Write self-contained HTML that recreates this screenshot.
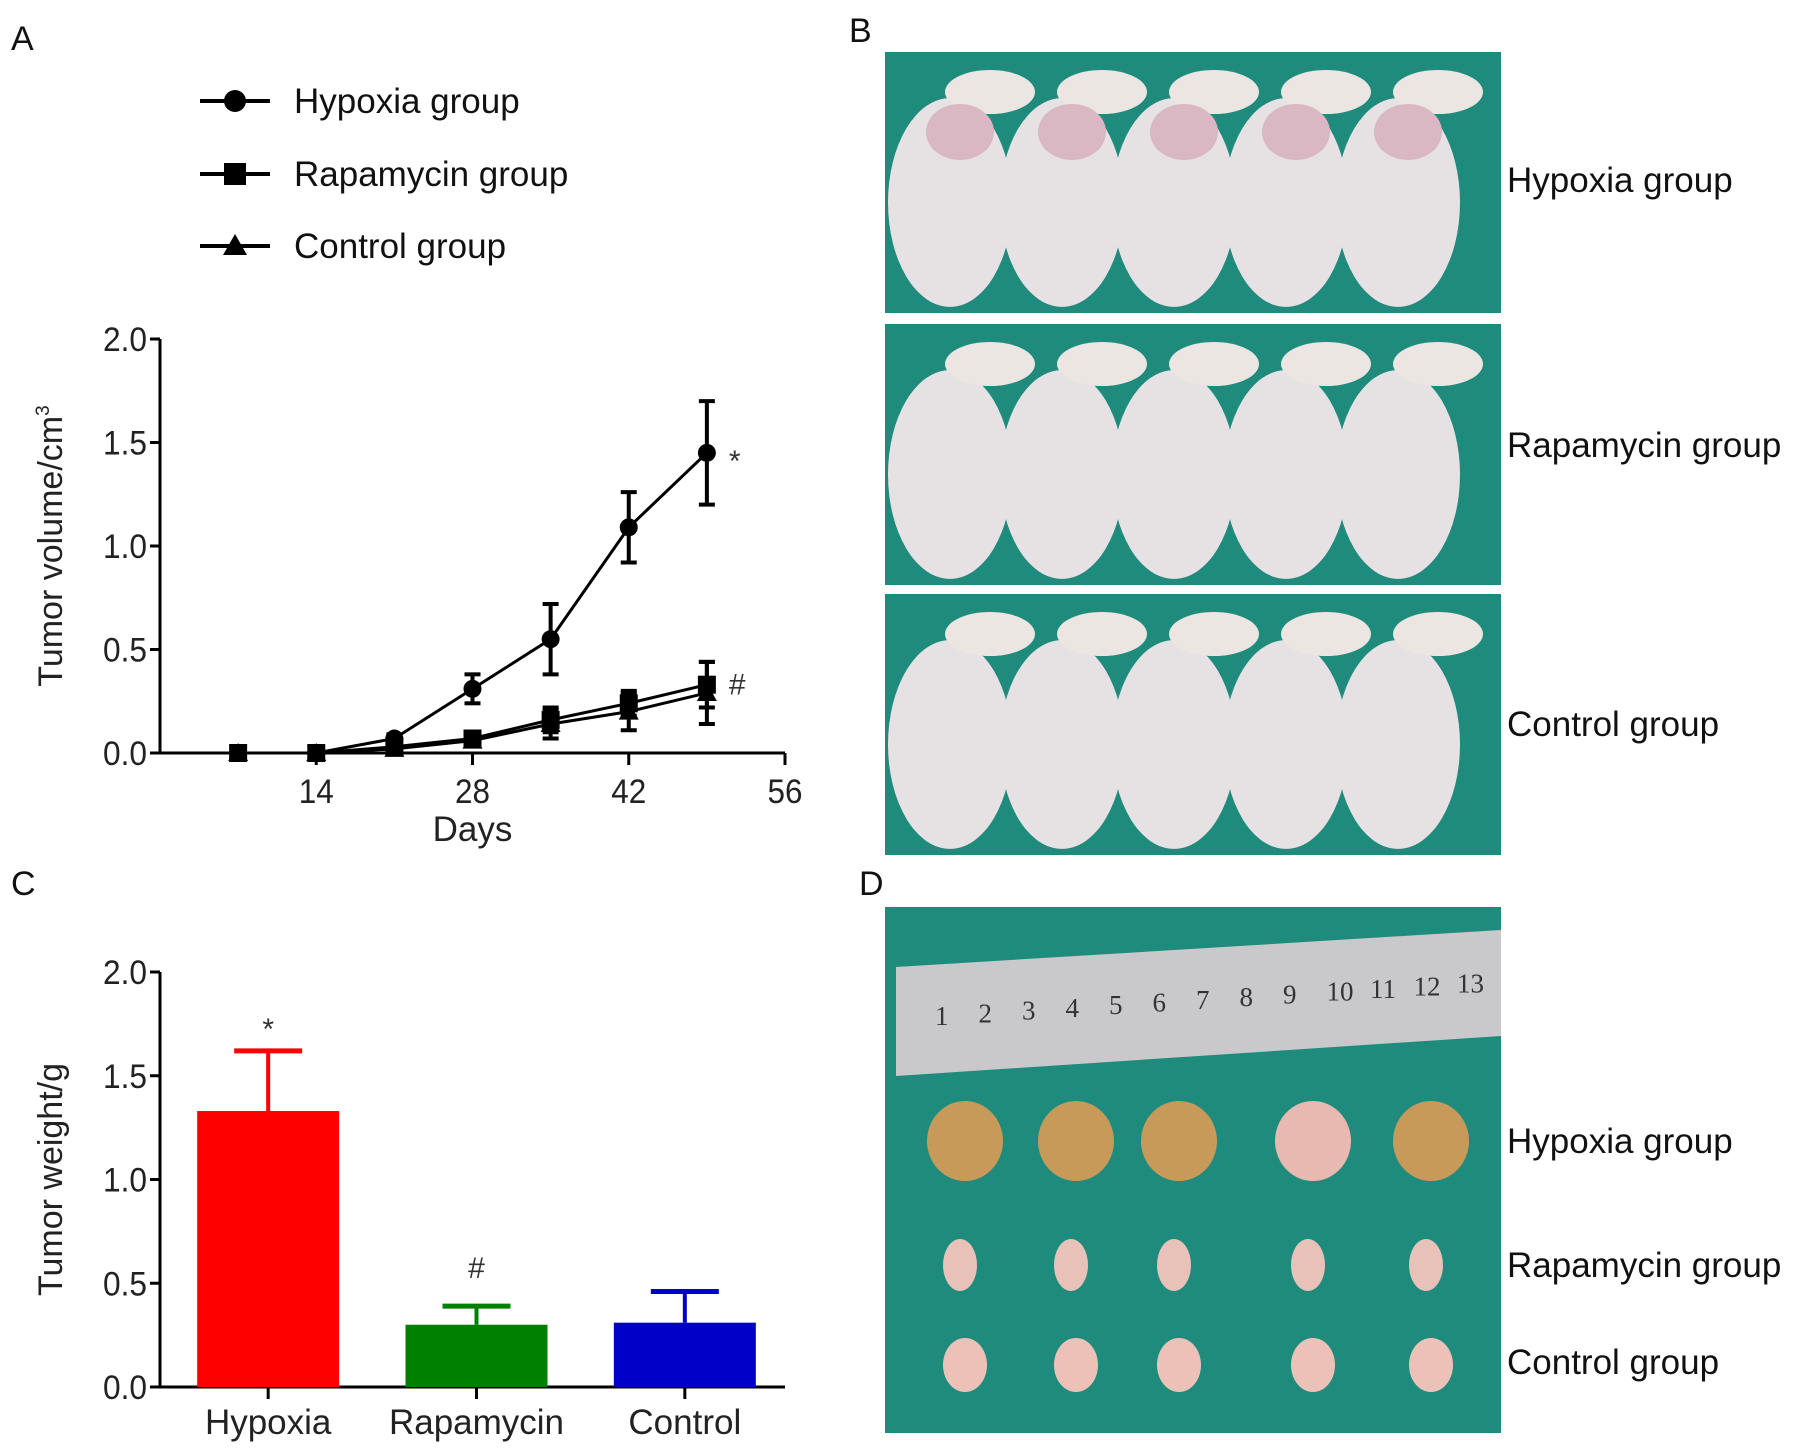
<!DOCTYPE html>
<html><head><meta charset="utf-8">
<style>
html,body{margin:0;padding:0;background:#fff;overflow:hidden;}
svg{display:block;font-family:"Liberation Sans",Arial,sans-serif;}
</style></head>
<body>
<svg id="fig" width="1795" height="1451" viewBox="0 0 1795 1451" xmlns="http://www.w3.org/2000/svg">
<g font-size="34" fill="#111">
<text x="11" y="50">A</text>
<text x="849" y="42">B</text>
<text x="11" y="895">C</text>
<text x="859" y="895">D</text>
</g>
<g id="legendA"></g>
<g id="chartA"></g>
<g id="chartC"></g>
<g id="photoB"></g>
<g id="photoD"></g>
</svg>
<script>
const NS="http://www.w3.org/2000/svg";
function mk(tag,attrs,parent){const e=document.createElementNS(NS,tag);for(const k in attrs)e.setAttribute(k,attrs[k]);parent.appendChild(e);return e;}

// ---- Chart A data ----
const days=[7,14,21,28,35,42,49];
const hypoxiaVol=[0,0,0.07,0.31,0.55,1.09,1.45];
const hypoxiaErr=[0,0,0.02,0.07,0.17,0.17,0.25];
const rapaVol=[0,0,0.03,0.07,0.16,0.24,0.33];
const rapaErr=[0,0,0.01,0.02,0.06,0.06,0.11];
const controlVol=[0,0,0.02,0.06,0.14,0.20,0.29];
const controlErr=[0,0,0.01,0.02,0.07,0.09,0.15];
const xTicksA=[14,28,42,56];
const yTicksA=["0.0","0.5","1.0","1.5","2.0"];
// ---- Chart C data ----
const groups=["Hypoxia","Rapamycin","Control"];
const weights=[1.33,0.30,0.31];
const weightErr=[0.29,0.09,0.15];
const barColors=["#ff0000","#008000","#0000c8"];
const yTicksC=["0.0","0.5","1.0","1.5","2.0"];

// legend
const leg=document.getElementById('legendA');
const legNames=["Hypoxia group","Rapamycin group","Control group"];
const legY=[101,174,246];
legNames.forEach((n,i)=>{
  const l=mk('line',{x1:200,x2:270,y1:legY[i],y2:legY[i],stroke:'#000','stroke-width':4},leg);
  
  
  let m;
  if(i===0)m=mk('circle',{cx:235,cy:legY[i],r:11,fill:'#000'},leg);
  else if(i===1)m=mk('rect',{x:224,y:legY[i]-11,width:22,height:22,fill:'#000'},leg);
  else m=mk('polygon',{points:`235,${legY[i]-12} 247,${legY[i]+9} 223,${legY[i]+9}`,fill:'#000'},leg);
  
  
  const t=mk('text',{x:294,y:legY[i]+12,'font-size':35,fill:'#111'},leg);t.textContent=n;
  
  
});

// chart A
const A=document.getElementById('chartA');
const ax0=160,ax1=785,ay0=753,ay1=339;
const xA=d=>ax0+(d/56)*(ax1-ax0);
const yA=v=>ay0-(v/2)*(ay0-ay1);
mk('line',{x1:ax0,x2:ax0,y1:ay1,y2:ay0,stroke:'#000','stroke-width':3},A);
mk('line',{x1:ax0,x2:ax1,y1:ay0,y2:ay0,stroke:'#000','stroke-width':3},A);
yTicksA.forEach(t=>{const y=yA(+t);
  mk('line',{x1:ax0-10,x2:ax0,y1:y,y2:y,stroke:'#000','stroke-width':3},A);
  const tx=mk('text',{x:ax0-13,y:y+12,'text-anchor':'end','font-size':34,'textLength':44,'lengthAdjust':'spacingAndGlyphs',fill:'#222'},A);tx.textContent=t;
  
  });
xTicksA.forEach(t=>{const x=xA(t);
  mk('line',{x1:x,x2:x,y1:ay0,y2:ay0+12,stroke:'#000','stroke-width':3},A);
  const tx=mk('text',{x:x,y:ay0+50,'text-anchor':'middle','font-size':34,'textLength':35,'lengthAdjust':'spacingAndGlyphs',fill:'#222'},A);tx.textContent=t;
  
  });
const xl=mk('text',{x:xA(28),y:ay0+88,'text-anchor':'middle','font-size':35,fill:'#222'},A);xl.textContent='Days';


const yl=mk('text',{transform:`translate(62,${(ay0+ay1)/2}) rotate(-90)`,'text-anchor':'middle','font-size':34,fill:'#222'},A);
yl.innerHTML='Tumor volume/cm<tspan dy="-13" font-size="19">3</tspan>';


function series(vals,errs,shape,name){
  const g=mk('g',{},A);
  
  
  mk('polyline',{points:days.map((d,i)=>xA(d)+','+yA(vals[i])).join(' '),fill:'none',stroke:'#000','stroke-width':3},g);
  days.forEach((d,i)=>{const x=xA(d),y=yA(vals[i]);
    if(errs[i]>0){const t=yA(vals[i]+errs[i]),b=yA(vals[i]-errs[i]);
      mk('line',{x1:x,x2:x,y1:t,y2:b,stroke:'#000','stroke-width':4},g);
      mk('line',{x1:x-8,x2:x+8,y1:t,y2:t,stroke:'#000','stroke-width':4},g);
      mk('line',{x1:x-8,x2:x+8,y1:b,y2:b,stroke:'#000','stroke-width':4},g);}
    if(shape==='c')mk('circle',{cx:x,cy:y,r:9,fill:'#000'},g);
    else if(shape==='s')mk('rect',{x:x-9,y:y-9,width:18,height:18,fill:'#000'},g);
    else mk('polygon',{points:`${x},${y-10} ${x+10},${y+8} ${x-10},${y+8}`,fill:'#000'},g);
  });
}
series(controlVol,controlErr,'t','control-series');
series(rapaVol,rapaErr,'s','rapamycin-series');
series(hypoxiaVol,hypoxiaErr,'c','hypoxia-series');
const s1=mk('text',{x:xA(49)+22,y:yA(hypoxiaVol[6])+18,'font-size':30,fill:'#333'},A);s1.textContent='*';


const s2=mk('text',{x:xA(49)+22,y:yA(rapaVol[6])+10,'font-size':30,fill:'#333'},A);s2.textContent='#';



// chart C
const C=document.getElementById('chartC');
const cx0=160,cx1=785,cy0=1387,cy1=972;
const yC=v=>cy0-(v/2)*(cy0-cy1);
const band=(cx1-cx0)/3;
const xC=i=>cx0+band*(i+0.5)+4;
const bw=142;
mk('line',{x1:cx0,x2:cx0,y1:cy1,y2:cy0,stroke:'#000','stroke-width':3},C);
mk('line',{x1:cx0,x2:cx1,y1:cy0,y2:cy0,stroke:'#000','stroke-width':3},C);
yTicksC.forEach(t=>{const y=yC(+t);
  mk('line',{x1:cx0-10,x2:cx0,y1:y,y2:y,stroke:'#000','stroke-width':3},C);
  const tx=mk('text',{x:cx0-13,y:y+12,'text-anchor':'end','font-size':34,'textLength':44,'lengthAdjust':'spacingAndGlyphs',fill:'#222'},C);tx.textContent=t;
  
  });
const yl2=mk('text',{transform:`translate(62,${(cy0+cy1)/2}) rotate(-90)`,'text-anchor':'middle','font-size':34,fill:'#222'},C);yl2.textContent='Tumor weight/g';


groups.forEach((g,i)=>{const x=xC(i);
  const top=yC(weights[i]),et=yC(weights[i]+weightErr[i]);
  mk('line',{x1:x,x2:x,y1:et,y2:top,stroke:barColors[i],'stroke-width':4},C);
  mk('line',{x1:x-34,x2:x+34,y1:et,y2:et,stroke:barColors[i],'stroke-width':5},C);
  const r=mk('rect',{x:x-bw/2,y:top,width:bw,height:cy0-top,fill:barColors[i]},C);
  
  
  mk('line',{x1:x,x2:x,y1:cy0,y2:cy0+12,stroke:'#000','stroke-width':3},C);
  const t=mk('text',{x:x,y:cy0+47,'text-anchor':'middle','font-size':35,fill:'#222'},C);t.textContent=g;
  
  
});
const s3=mk('text',{x:xC(0),y:yC(weights[0]+weightErr[0])-12,'text-anchor':'middle','font-size':30,fill:'#333'},C);s3.textContent='*';


const s4=mk('text',{x:xC(1),y:yC(weights[1]+weightErr[1])-28,'text-anchor':'middle','font-size':30,fill:'#333'},C);s4.textContent='#';



// photo B
const B=document.getElementById('photoB');
const panels=[[52,313],[324,585],[594,855]];
const labelsB=["Hypoxia group","Rapamycin group","Control group"];
const labelYB=[192,457,736];
panels.forEach((p,k)=>{
  mk('rect',{x:885,y:p[0],width:616,height:p[1]-p[0],fill:'#1f8b7c'},B);
  for(let m=0;m<5;m++){const cx=950+m*112,cy=(p[0]+p[1])/2+20;
    mk('ellipse',{cx:cx,cy:cy,rx:62,ry:(p[1]-p[0])*0.40,fill:'#e6e2e4'},B);
    mk('ellipse',{cx:cx+40,cy:p[0]+40,rx:45,ry:22,fill:'#ece6e2'},B);
    if(k===0)mk('ellipse',{cx:cx+10,cy:p[0]+80,rx:34,ry:28,fill:'#d9b7c3'},B);
  }
  const t=mk('text',{x:1507,y:labelYB[k],'font-size':35,fill:'#111'},B);t.textContent=labelsB[k];
  
  
});
// photo D
const D=document.getElementById('photoD');
mk('rect',{x:885,y:907,width:616,height:526,fill:'#1f8b7c'},D);
mk('polygon',{points:'896,967 1501,930 1501,1036 896,1076',fill:'#c9c9cc'},D);
const rulerNums=[1,2,3,4,5,6,7,8,9,10,11,12,13];
rulerNums.forEach((n,i)=>{const t=mk('text',{x:935+i*43.5,y:1025-i*2.7,'font-size':27,'font-family':'Liberation Serif',fill:'#333'},D);t.textContent=n;
  
  });
const tx=[965,1076,1179,1313,1431];
tx.forEach((x,i)=>{mk('ellipse',{cx:x,cy:1141,rx:38,ry:40,fill:i===3?'#e8b9b0':'#c89a5a'},D);
  mk('ellipse',{cx:x-5,cy:1265,rx:17,ry:26,fill:'#e8c2b8'},D);
  mk('ellipse',{cx:x,cy:1365,rx:22,ry:27,fill:'#ecc2b8'},D);});
[["Hypoxia group",1153],["Rapamycin group",1277],["Control group",1374]].forEach(a=>{
  const t=mk('text',{x:1507,y:a[1],'font-size':35,fill:'#111'},D);t.textContent=a[0];
  
  });
</script>
</body></html>
